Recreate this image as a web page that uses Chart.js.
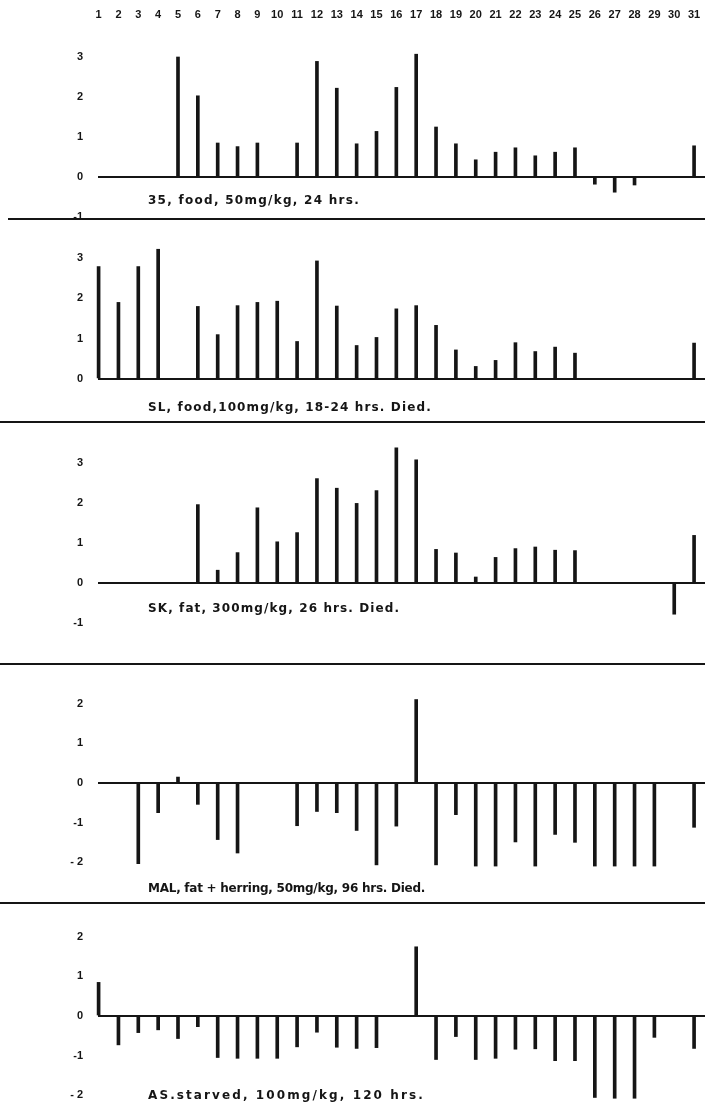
<!DOCTYPE html>
<html><head><meta charset="utf-8">
<script src="https://cdn.jsdelivr.net/npm/chart.js@4/dist/chart.umd.min.js"></script>
<style>
html,body{margin:0;padding:0;background:#fff;}
#wrap{position:relative;width:705px;height:1103px;overflow:hidden;background:#fff;}
#wrap canvas{position:absolute;left:0;z-index:2;}
.sep{position:absolute;height:2px;background:#151515;right:0;z-index:1;}
.cap{position:absolute;left:148px;font:bold 12px 'DejaVu Sans',sans-serif;color:#151515;white-space:nowrap;line-height:12px;z-index:3;}
</style></head><body><div id="wrap"></div>
<script>
// ---- data ----
const days = [1,2,3,4,5,6,7,8,9,10,11,12,13,14,15,16,17,18,19,20,21,22,23,24,25,26,27,28,29,30,31];
const dayLabels = ['1','2','3','4','5','6','7','8','9','10','11','12','13','14','15','16','17','18','19','20','21','22','23','24','25','26','27','28','29','30','31'];

const series35 = [null,null,null,null,3.0,2.03,0.85,0.76,0.85,null,0.85,2.89,2.22,0.83,1.14,2.24,3.07,1.25,0.83,0.43,0.62,0.73,0.53,0.62,0.73,-0.18,-0.38,-0.2,null,null,0.78];
const seriesSL = [2.79,1.90,2.79,3.22,null,1.80,1.10,1.82,1.90,1.93,0.93,2.93,1.81,0.83,1.03,1.74,1.82,1.33,0.72,0.31,0.46,0.90,0.68,0.79,0.64,null,null,null,null,null,0.89];
const seriesSK = [null,null,null,null,null,1.96,0.32,0.76,1.88,1.03,1.26,2.61,2.37,1.99,2.31,3.38,3.08,0.84,0.75,0.15,0.64,0.86,0.90,0.82,0.81,null,null,null,null,-0.78,1.19];
const seriesMAL = [null,null,-2.04,-0.75,0.15,-0.54,-1.43,-1.77,null,null,-1.08,-0.72,-0.75,-1.20,-2.07,-1.09,2.11,-2.07,-0.80,-2.10,-2.10,-1.49,-2.10,-1.30,-1.50,-2.10,-2.10,-2.10,-2.10,null,-1.12];
const seriesAS = [0.85,-0.73,-0.42,-0.35,-0.57,-0.27,-1.05,-1.07,-1.07,-1.07,-0.78,-0.41,-0.79,-0.82,-0.80,null,1.75,-1.10,-0.52,-1.10,-1.07,-0.84,-0.83,-1.13,-1.13,-2.06,-2.08,-2.08,-0.54,null,-0.82];

const captions = ['35, food, 50mg/kg, 24 hrs.','SL, food,100mg/kg, 18-24 hrs. Died.','SK, fat, 300mg/kg, 26 hrs. Died.','MAL, fat + herring, 50mg/kg, 96 hrs. Died.','AS.starved, 100mg/kg, 120 hrs.'];

const ticksA = [-1,0,1,2,3];
const ticksB = [0,1,2,3];
const ticksC = [-1,0,1,2,3];
const ticksD = [-2,-1,0,1,2];
const ticksE = [-2,-1,0,1,2];

// ---- layout (positions / styles only) ----
const panels = [
  {data:series35, ticks:ticksA, zero:177, unit:40,   min:-1,   max:3.3, capY:200,  capW:212},
  {data:seriesSL, ticks:ticksB, zero:379, unit:40.3, min:-0.3, max:3.4, capY:407,  capW:284},
  {data:seriesSK, ticks:ticksC, zero:583, unit:40,   min:-1,   max:3.5, capY:608,  capW:252},
  {data:seriesMAL,ticks:ticksD, zero:782.5,unit:39.5,min:-2.25,max:2.25,capY:888, capW:277},
  {data:seriesAS, ticks:ticksE, zero:1016,unit:39.5, min:-2.2, max:2.2, capY:1095, capW:277}
];
const seps = [{y:218,x:8},{y:421,x:0},{y:663,x:0},{y:902,x:0}];
const INK = '#151515';
const FONT = "'Liberation Sans', Arial, sans-serif";
const LEFT = 98, W = 705, PAD = 26;
const X_MIN = 0.97, X_MAX = 31.55;

const wrap = document.getElementById('wrap');

function addCanvas(top, h) {
  const cv = document.createElement('canvas');
  cv.width = W; cv.height = h;
  cv.style.top = top + 'px';
  cv.style.width = W + 'px'; cv.style.height = h + 'px';
  wrap.appendChild(cv);
  return cv;
}

// top strip: day numbers drawn as the x axis tick labels
{
  const cv = addCanvas(0, 32);
  new Chart(cv.getContext('2d'), {
    type: 'bar',
    data: { datasets: [{ data: [] }] },
    options: {
      responsive: false, maintainAspectRatio: false, animation: false, devicePixelRatio: 1,
      layout: { padding: { left: LEFT, right: 0, top: 0, bottom: 0 } },
      plugins: { legend: { display: false }, tooltip: { enabled: false } },
      scales: {
        x: {
          type: 'linear', position: 'top', min: X_MIN, max: X_MAX, offset: false,
          grid: { display: false, drawTicks: false }, border: { display: false },
          afterBuildTicks: s => { s.ticks = days.map(d => ({ value: d })); },
          afterFit: s => { s.height = 21.5; },
          ticks: {
            autoSkip: false, maxRotation: 0, minRotation: 0, padding: 0,
            color: INK, font: { family: FONT, size: 11, weight: 'bold' },
            callback: v => dayLabels[days.indexOf(v)]
          }
        },
        y: { display: false, min: 0, max: 1 }
      }
    }
  });
}

panels.forEach((p, i) => {
  const areaTop = p.zero - p.max * p.unit;
  const areaBottom = p.zero - p.min * p.unit;
  const canvasTop = areaTop - PAD;
  const h = Math.round(areaBottom - canvasTop + PAD);
  const cv = addCanvas(canvasTop, h);

  const pts = [];
  p.data.forEach((v, k) => { if (v !== null) pts.push({x: days[k], y: v}); });

  new Chart(cv.getContext('2d'), {
    type: 'bar',
    data: { datasets: [{ data: pts, backgroundColor: INK, borderWidth: 0, barThickness: 3, clip: false }] },
    options: {
      responsive: false, maintainAspectRatio: false, animation: false, devicePixelRatio: 1,
      layout: { padding: { top: PAD, bottom: PAD, left: 0, right: 0 } },
      plugins: { legend: { display: false }, tooltip: { enabled: false }, title: { display: false } },
      scales: {
        x: {
          type: 'linear', min: X_MIN, max: X_MAX, offset: false, display: false,
          grid: { display: false }, border: { display: false }
        },
        y: {
          type: 'linear', min: p.min, max: p.max,
          afterBuildTicks: s => { s.ticks = p.ticks.map(t => ({ value: t })); },
          afterFit: s => { s.width = LEFT; },
          grid: {
            drawTicks: false,
            color: c => (c.tick && c.tick.value === 0) ? INK : 'rgba(0,0,0,0)',
            lineWidth: c => (c.tick && c.tick.value === 0) ? 2 : 0
          },
          border: { display: false },
          ticks: {
            padding: 15, color: INK,
            font: { family: FONT, size: 11, weight: 'bold' },
            callback: v => (v === -2 ? '- 2' : String(v))
          }
        }
      }
    }
  });

  const cap = document.createElement('div');
  cap.className = 'cap';
  cap.textContent = captions[i];
  cap.style.top = (p.capY - 6) + 'px';
  wrap.appendChild(cap);
  const natural = cap.getBoundingClientRect().width;
  const n = captions[i].length;
  cap.style.letterSpacing = ((p.capW - natural) / n).toFixed(2) + 'px';
});

seps.forEach(s => {
  const d = document.createElement('div');
  d.className = 'sep';
  d.style.top = s.y + 'px';
  d.style.left = s.x + 'px';
  wrap.appendChild(d);
});
</script>
</body></html>
